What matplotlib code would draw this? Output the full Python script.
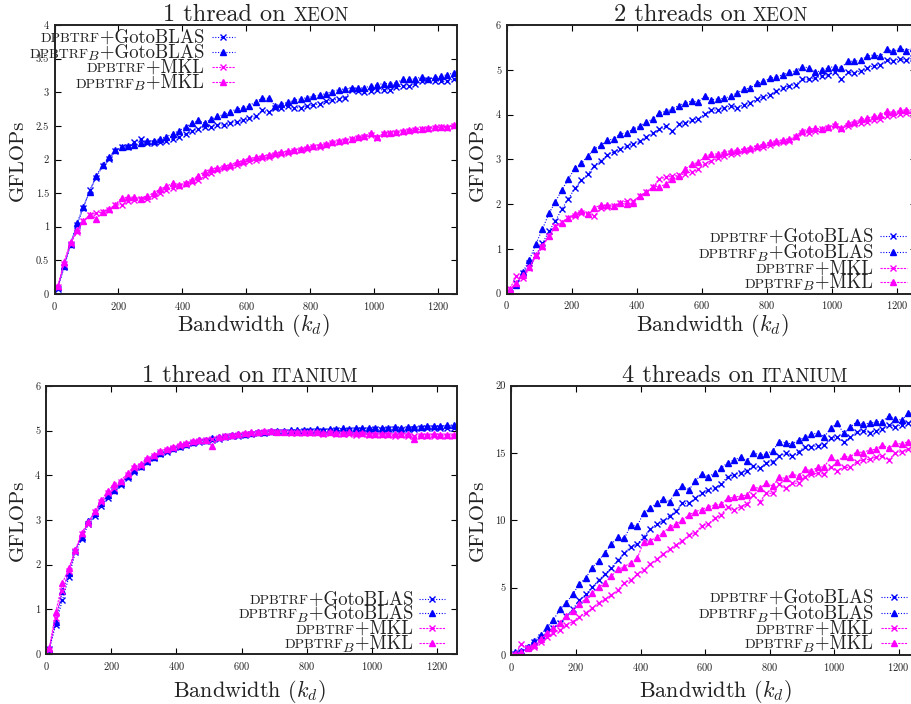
import matplotlib
matplotlib.use("Agg")
import matplotlib.pyplot as plt
from matplotlib.ticker import MultipleLocator, FuncFormatter
from matplotlib.lines import Line2D

plt.rcParams['font.family'] = ['cmr10']
plt.rcParams['mathtext.fontset'] = 'cm'
plt.rcParams['axes.formatter.use_mathtext'] = True

W, H = 912, 704

bandwidth = [10, 30, 50, 70, 90, 110, 130, 150, 170, 190, 210, 230, 250, 270, 290,
             310, 330, 350, 370, 390, 410, 430, 450, 470, 490, 510, 530, 550, 570, 590,
             610, 630, 650, 670, 690, 710, 730, 750, 770, 790, 810, 830, 850, 870, 890,
             910, 930, 950, 970, 990, 1010, 1030, 1050, 1070, 1090, 1110, 1130, 1150,
             1170, 1190, 1210, 1230, 1250]

# 1 thread on xeon
xeon1_goto = [0.08, 0.4, 0.73, 1.03, 1.28, 1.55, 1.73, 1.9, 2.01,
              2.12, 2.18, 2.19, 2.26, 2.3, 2.24, 2.25, 2.26, 2.28, 2.3, 2.34, 2.38, 2.42,
              2.46, 2.48, 2.49, 2.52, 2.51, 2.54, 2.56, 2.58, 2.61, 2.64, 2.73, 2.71, 2.76,
              2.77, 2.79, 2.77, 2.77, 2.79, 2.81, 2.83, 2.87, 2.88, 2.9, 2.92, 3.03, 3.02,
              3.01, 3.02, 3.03, 3.04, 3.03, 3.08, 3.09, 3.1, 3.12, 3.16, 3.18, 3.17, 3.16,
              3.16, 3.2]
xeon1_goto_b = [0.1, 0.42, 0.75, 1.05, 1.3, 1.52, 1.75, 1.92, 2.03,
                2.14, 2.19, 2.2, 2.22, 2.24, 2.27, 2.28, 2.31, 2.34, 2.38, 2.43, 2.48, 2.54,
                2.58, 2.54, 2.6, 2.64, 2.67, 2.71, 2.75, 2.77, 2.8, 2.86, 2.91, 2.91, 2.8,
                2.83, 2.85, 2.88, 2.9, 2.92, 2.94, 2.96, 2.98, 3.01, 3.04, 3.05, 3.06, 3.06,
                3.07, 3.09, 3.11, 3.13, 3.13, 3.14, 3.19, 3.19, 3.2, 3.23, 3.19, 3.22, 3.24,
                3.26, 3.29]
xeon1_mkl = [0.1, 0.45, 0.75, 0.92, 1.08, 1.18, 1.2, 1.22, 1.25, 1.32, 1.33, 1.38, 1.4,
             1.42, 1.42, 1.46, 1.5, 1.54, 1.58, 1.6, 1.63, 1.66, 1.7, 1.75, 1.8, 1.84, 1.87,
             1.89, 1.92, 1.95, 1.98,
             2.0, 2.02, 2.04, 2.06, 2.08, 2.1, 2.12, 2.14, 2.16, 2.18, 2.19, 2.21, 2.24,
             2.26, 2.28, 2.3, 2.32, 2.33, 2.36, 2.32, 2.38, 2.39, 2.4, 2.41, 2.42, 2.44,
             2.45, 2.46, 2.47, 2.48, 2.47, 2.5]
xeon1_mkl_b = [0.12, 0.48, 0.78, 0.95, 1.08, 1.18, 1.12, 1.22, 1.26, 1.33, 1.43, 1.44,
               1.44, 1.42, 1.46, 1.5, 1.56, 1.6, 1.65, 1.62, 1.65, 1.7, 1.76, 1.82, 1.86,
               1.87, 1.9, 1.92, 1.96, 1.98, 2.02,
               2.03, 2.05, 2.07, 2.09, 2.11, 2.12, 2.14, 2.16, 2.18, 2.2, 2.22, 2.23, 2.26,
               2.28, 2.29, 2.31, 2.33, 2.35, 2.39, 2.34, 2.39, 2.4, 2.41, 2.43, 2.44, 2.45,
               2.46, 2.47, 2.49, 2.49, 2.49, 2.52]

# 2 threads on xeon
xeon2_goto = [0.02, 0.23, 0.45, 0.68, 0.86, 1.12, 1.39, 1.62, 1.89, 2.12, 2.35, 2.53,
              2.67, 2.86, 2.97, 3.1, 3.17, 3.23, 3.29, 3.35, 3.4, 3.5, 3.59, 3.67, 3.74,
              3.63, 3.78, 3.8, 3.87, 3.91, 4.01, 4.09, 4.11, 4.15, 4.19, 4.15, 4.22, 4.26,
              4.35, 4.39, 4.44, 4.52, 4.59, 4.64, 4.67, 4.79, 4.79, 4.81, 4.87, 4.89, 4.94,
              4.79, 4.94, 4.93, 4.98, 5.04, 5.09, 5.11, 5.22, 5.2, 5.24, 5.21, 5.26]
xeon2_goto_b = [0.04, 0.19, 0.49, 0.75, 1.11, 1.44, 1.79, 2.05, 2.32, 2.56, 2.8, 2.91,
                3.08, 3.23, 3.31, 3.42, 3.46, 3.57, 3.59, 3.68, 3.74, 3.83, 3.9, 4.04, 4.07,
                4.13, 4.2, 4.26, 4.3, 4.28, 4.42, 4.33, 4.35, 4.36, 4.42, 4.48, 4.57, 4.59,
                4.7, 4.74, 4.81, 4.84, 4.89, 4.94, 4.98, 5.07, 5.04, 4.94, 4.99, 5.05, 5.07,
                5.05, 5.19, 5.19, 5.21, 5.31, 5.33, 5.3, 5.46, 5.41, 5.48, 5.43, 5.48]
xeon2_mkl = [0.11, 0.39, 0.34, 0.56, 0.83, 1.05, 1.28, 1.5, 1.59, 1.69, 1.73, 1.8, 1.78,
             1.73, 1.92, 1.94, 1.95, 2.02, 2.07, 2.07, 2.18, 2.26, 2.37, 2.56, 2.6, 2.62,
             2.64, 2.68, 2.72, 2.78, 2.9, 2.97, 3.02, 3.08, 3.12, 3.15, 3.18, 3.2, 3.25,
             3.28, 3.32, 3.36, 3.38, 3.41, 3.49, 3.59, 3.59, 3.64, 3.68, 3.69, 3.75, 3.68,
             3.75, 3.79, 3.81, 3.83, 3.87, 3.9, 3.96, 3.98, 4.02, 4.04, 4.02]
xeon2_mkl_b = [0.09, 0.24, 0.41, 0.6, 0.86, 1.07, 1.28, 1.49, 1.58, 1.69, 1.77, 1.84,
               1.77, 1.92, 1.97, 1.97, 1.95, 2.02, 1.99, 2.02, 2.18, 2.26, 2.39, 2.39, 2.44,
               2.56, 2.63, 2.78, 2.89, 2.93, 3.07, 3.11, 3.12, 3.17, 3.19, 3.21, 3.22, 3.26,
               3.3, 3.33, 3.38, 3.4, 3.42, 3.45, 3.52, 3.64, 3.68, 3.69, 3.68, 3.71, 3.79,
               3.69, 3.81, 3.83, 3.9, 3.92, 3.96, 3.99, 4.07, 4.05, 4.09, 4.11, 4.1]

# 1 thread on itanium
itanium1_goto = [0.11, 0.66, 1.2, 1.72, 2.28, 2.58, 2.9, 3.1, 3.32, 3.5, 3.64, 3.78,
                 3.94, 4.08, 4.18, 4.3, 4.38, 4.48, 4.53, 4.58, 4.63, 4.68, 4.72, 4.75,
                 4.77, 4.8, 4.82, 4.85, 4.87, 4.89, 4.91, 4.92, 4.94, 4.95, 4.96, 4.97,
                 4.97, 4.98, 4.98, 4.99, 4.99, 5.0, 4.99, 5.0, 5.01, 5.0, 5.01, 5.02, 5.01,
                 5.02, 5.03, 5.02, 5.03, 5.03, 5.02, 5.04, 5.04, 5.05, 5.05, 5.06, 5.06,
                 5.07, 5.07]
itanium1_goto_b = [0.12, 0.72, 1.4, 1.82, 2.33, 2.62, 2.98, 3.15, 3.38, 3.55, 3.68, 3.82,
                   3.98, 4.12, 4.22, 4.33, 4.41, 4.5, 4.56, 4.62, 4.66, 4.7, 4.74, 4.78,
                   4.8, 4.83, 4.86, 4.88, 4.9, 4.92, 4.93, 4.95, 4.96, 4.98, 4.99, 5.0, 5.0,
                   5.01, 5.01, 5.02, 5.02, 5.03, 5.02, 5.04, 5.03, 5.05, 5.04, 5.05, 5.06,
                   5.05, 5.07, 5.06, 5.07, 5.08, 5.07, 5.08, 5.09, 5.08, 5.1, 5.1, 5.11,
                   5.12, 5.13]
itanium1_mkl = [0.1, 0.8, 1.42, 1.85, 2.3, 2.68, 2.92, 3.18, 3.4, 3.6, 3.72, 3.85, 4.0,
                4.16, 4.22, 4.35, 4.43, 4.52, 4.56, 4.62, 4.66, 4.71, 4.74, 4.76, 4.79,
                4.82, 4.84, 4.87, 4.89, 4.91, 4.92, 4.93, 4.95, 4.96, 4.96, 4.97, 4.96,
                4.95, 4.95, 4.94, 4.95, 4.94, 4.93, 4.94, 4.92, 4.93, 4.92, 4.91, 4.92,
                4.91, 4.9, 4.91, 4.9, 4.89, 4.9, 4.89, 4.88, 4.88, 4.89, 4.88, 4.89, 4.88,
                4.88]
itanium1_mkl_b = [0.13, 0.94, 1.58, 1.92, 2.33, 2.72, 2.95, 3.2, 3.44, 3.66, 3.8, 3.88,
                  4.05, 4.2, 4.26, 4.38, 4.46, 4.54, 4.6, 4.64, 4.7, 4.72, 4.76, 4.78, 4.8,
                  4.65, 4.86, 4.88, 4.9, 4.93, 4.95, 4.96, 4.98, 4.99, 4.99, 4.98, 4.98,
                  4.97, 4.97, 4.96, 4.96, 4.97, 4.95, 4.96, 4.95, 4.94, 4.96, 4.95, 4.94,
                  4.93, 4.93, 4.92, 4.93, 4.92, 4.92, 4.93, 4.82, 4.91, 4.9, 4.92, 4.91,
                  4.9, 4.9]

# 4 threads on itanium
itanium4_goto = [0.05, 0.2, 0.5, 0.94, 1.31, 1.66, 1.98, 2.4, 2.9, 3.39, 4.08, 4.5, 5.02,
                 5.57, 6.01, 6.49, 7.05, 7.6, 8.04, 8.24, 8.79, 9.33, 9.73, 9.98, 10.32,
                 10.69, 11.26, 11.26, 11.63, 12.0, 12.25, 12.37, 12.7, 13.24, 13.36, 13.54,
                 13.69, 14.03, 13.86, 14.28, 14.35, 14.77, 14.97, 14.77, 15.1, 15.47, 15.47,
                 15.52, 15.59, 16.09, 16.16, 15.84, 16.16, 16.58, 16.66, 16.51, 16.66,
                 16.76, 17.08, 16.96, 17.08, 17.25, 17.3]
itanium4_goto_b = [0.2, 0.32, 0.62, 1.06, 1.49, 2.05, 2.6, 3.39, 3.89, 4.5, 5.27, 5.69,
                   6.49, 7.0, 7.6, 8.24, 8.74, 8.66, 9.63, 9.58, 10.57, 10.89, 11.26, 11.58,
                   11.39, 12.13, 12.55, 12.25, 12.92, 13.44, 13.24, 13.49, 13.86, 14.28,
                   14.48, 14.68, 14.4, 15.02, 14.85, 14.92, 15.17, 15.84, 15.76, 15.66,
                   15.96, 16.16, 16.41, 16.46, 16.21, 16.83, 17.2, 16.46, 16.9, 17.32,
                   17.15, 17.2, 17.32, 17.32, 17.77, 17.5, 17.45, 17.94, 18.0]
itanium4_mkl = [0.0, 0.79, 0.5, 0.62, 0.99, 1.31, 1.66, 1.86, 2.23, 2.48, 2.85, 3.14,
                3.47, 3.89, 4.13, 4.46, 4.83, 5.37, 5.57, 6.01, 6.31, 6.76, 7.1, 7.5, 7.85,
                8.17, 8.49, 8.91, 9.08, 9.6, 9.73, 10.15, 10.4, 11.02, 10.77, 11.02, 11.21,
                11.88, 11.39, 12.0, 12.0, 12.7, 12.37, 12.75, 12.75, 13.24, 13.44, 13.49,
                13.44, 13.98, 13.69, 13.93, 13.93, 14.35, 14.48, 14.53, 14.68, 14.77,
                14.48, 15.02, 15.1, 15.27, 15.3]
itanium4_mkl_b = [0.07, 0.2, 0.5, 0.74, 1.16, 1.61, 1.98, 2.4, 2.9, 3.29, 3.79, 4.16,
                  4.58, 5.02, 5.37, 5.87, 6.36, 6.56, 6.86, 7.18, 8.42, 8.49, 8.74, 9.08,
                  9.48, 9.73, 10.02, 10.4, 10.64, 10.8, 11.0, 11.14, 11.19, 11.63, 11.71,
                  11.8, 11.88, 12.45, 12.37, 12.75, 12.55, 13.19, 13.11, 13.44, 13.29,
                  13.78, 13.69, 13.93, 13.98, 14.68, 14.35, 14.77, 14.68, 15.1, 15.02,
                  15.22, 15.27, 15.59, 15.34, 15.71, 15.66, 15.84, 15.9]

BLUE = '#0000ff'
MAG = '#ff00ff'
# (colour, marker, dash pattern) for GotoBLAS, GotoBLAS_B, MKL, MKL_B
styles = [(BLUE, 'x', (0, (1, 1.5))), (BLUE, '^', (0, (1, 1.5))),
          (MAG, 'x', (0, (2, 1))), (MAG, '^', (0, (2, 1)))]

fig = plt.figure(figsize=(W / 100, H / 100), dpi=100)
rich_groups = []


def rich(px, py, pieces, align):
    # pieces: (text, fontsize, dy_px, gap_px) laid side by side on one baseline
    texts = []
    for s, size, dy, gap in pieces:
        t = fig.text(px / W, 1 - py / H, s, fontsize=size, ha='left', va='baseline',
                     color='#222222')
        texts.append((t, dy, gap))
    rich_groups.append((px, py, texts, align))


def ax_rect(left, right, top, bottom):
    return [left / W, 1 - bottom / H, (right - left) / W, (bottom - top) / H]


panels = [
    dict(rect=ax_rect(54.6, 457, 25, 294), ymax=4, ystep=0.5,
         data=[xeon1_goto, xeon1_goto_b, xeon1_mkl, xeon1_mkl_b],
         title=('1 thread on', 'XEON', 256, 21),
         xlab=(253, 331), ylab=(18, 160),
         leg=(204, 212, 235, [37, 52, 67, 82])),
    dict(rect=ax_rect(506.7, 916.2, 25, 293.5), ymax=6, ystep=1,
         data=[xeon2_goto, xeon2_goto_b, xeon2_mkl, xeon2_mkl_b],
         title=('2 threads on', 'XEON', 711, 21),
         xlab=(712, 331), ylab=(478, 160),
         leg=(873, 880, 907, [236, 252, 268, 282])),
    dict(rect=ax_rect(46, 456.8, 386, 654), ymax=6, ystep=1,
         data=[itanium1_goto, itanium1_goto_b, itanium1_mkl, itanium1_mkl_b],
         title=('1 thread on', 'ITANIUM', 250, 382),
         xlab=(249, 697), ylab=(18, 520),
         leg=(413, 419, 445, [599, 613, 628, 643])),
    dict(rect=ax_rect(511.5, 917.9, 385.6, 655), ymax=20, ystep=5,
         data=[itanium4_goto, itanium4_goto_b, itanium4_mkl, itanium4_mkl_b],
         title=('4 threads on', 'ITANIUM', 735, 382),
         xlab=(715, 697), ylab=(478, 520),
         leg=(873, 881, 907, [597, 613, 628, 643])),
]

leg_labels = [('DPBTRF', None, '+GotoBLAS'), ('DPBTRF', 'B', '+GotoBLAS'),
              ('DPBTRF', None, '+MKL'), ('DPBTRF', 'B', '+MKL')]

for p in panels:
    ax = fig.add_axes(p['rect'])
    for ys, (c, m, ls) in zip(p['data'], styles):
        ax.plot(bandwidth, ys, color=c, marker=m, ls=ls, lw=0.8, ms=4, mew=1.0,
                clip_on=True)
    ax.set_xlim(0, 1260)
    ax.set_ylim(0, p['ymax'])
    ax.xaxis.set_major_locator(MultipleLocator(200))
    ax.yaxis.set_major_locator(MultipleLocator(p['ystep']))
    ax.yaxis.set_major_formatter(FuncFormatter(lambda v, pos: '%g' % v))
    ax.tick_params(direction='in', top=True, right=True, length=4, width=0.8,
                   labelsize=7.5, pad=4, labelcolor='#222222')
    for s in ax.spines.values():
        s.set_linewidth(1.4)
        s.set_color('#222222')

    pre, sc, tx, ty = p['title']
    rich(tx, ty, [(pre, 17.5, 0, 0), (sc, 13.5, 0, 7)], 'center')
    fig.text(p['xlab'][0] / W, 1 - p['xlab'][1] / H, r'Bandwidth ($k_d$)', fontsize=16,
             ha='center', va='baseline', color='#222222')
    fig.text(p['ylab'][0] / W, 1 - p['ylab'][1] / H, 'GFLOPs', fontsize=15,
             ha='center', va='center', rotation=90, color='#222222')

    tr, x0, x1, rows = p['leg']
    for (a, b, c), (col, m, ls), yc in zip(leg_labels, styles, rows):
        fig.add_artist(Line2D([x0 / W, x1 / W], [1 - yc / H, 1 - yc / H], color=col,
                              ls=ls, lw=0.8))
        fig.add_artist(Line2D([(x0 + x1) / 2 / W], [1 - yc / H], color=col, marker=m,
                              ms=4, mew=1.0, ls='none'))
        pieces = [(a, 10, 0, 0)]
        if b:
            pieces.append((r'$B$', 10, -3, -1.5))
        pieces.append((c, 13.5, 0, 0.5))
        rich(tr, yc + 5.5, pieces, 'right')

fig.canvas.draw()
renderer = fig.canvas.get_renderer()
for px, py, texts, align in rich_groups:
    widths = [t.get_window_extent(renderer).width for t, _, _ in texts]
    total = sum(widths) + sum(g for _, _, g in texts)
    x = px - total if align == 'right' else px - total / 2
    for (t, dy, gap), w in zip(texts, widths):
        x += gap
        t.set_position((x / W, 1 - (py - dy) / H))
        x += w

fig.savefig('out.png', dpi=100)
